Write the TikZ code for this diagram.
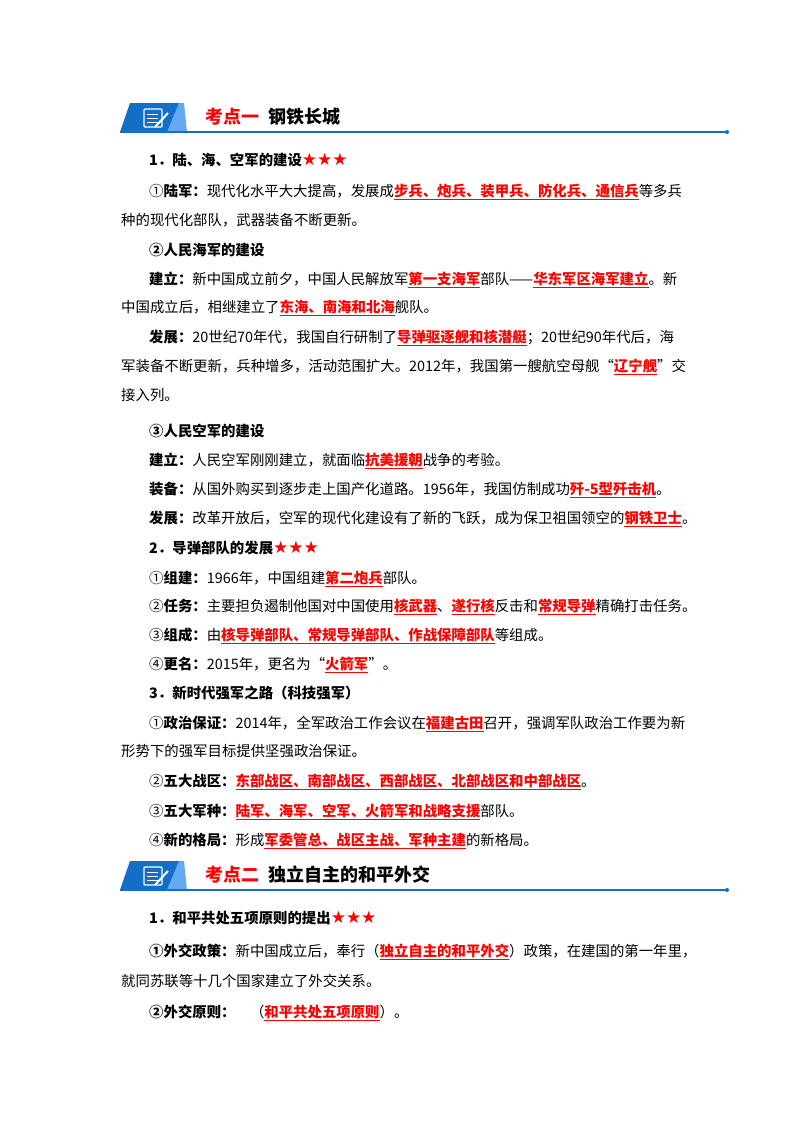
\documentclass[tikz,border=0pt]{standalone}
\usepackage{fontspec}
\setmainfont{Noto Sans CJK SC}
\newfontfamily\sym{DejaVu Sans}
\definecolor{dblue}{RGB}{20,110,200}
\definecolor{lblue}{RGB}{100,170,240}
\newcommand\hl[1]{\textcolor{red}{\bfseries\underline{#1}}}
\newcommand\bd[1]{{\bfseries #1}}
\newcommand\stars{\textcolor{red}{\fontsize{17}{17}\selectfont\sym ★★★}}
\tikzset{txt/.style={anchor=base west,inner sep=0,font=\fontsize{14.4}{14.4}\selectfont},
ttl/.style={anchor=base west,inner sep=0,font=\fontsize{18}{18}\selectfont\bfseries}}
\begin{document}
\begin{tikzpicture}[x=1pt,y=-1pt]
\useasboundingbox[fill=white] (0,0) rectangle (800,1132);
\newcommand\banner[4]{%
 \fill[dblue] (120,#1) -- (130,#1-29) -- (182,#1-29) -- (170,#1);
 \fill[lblue] (167,#1) -- (179,#1-29) -- (184,#1-29) -- (187,#1);
 \draw[white,line width=1.2pt,rounded corners=1pt] (144,#1-23) rectangle (162,#1-5);
 \foreach \k in {0,1,2} \draw[white,line width=1pt] (147,#1-18+\k*4) -- (158,#1-18+\k*4);
 \draw[white,line width=2pt] (155,#1-5) -- (168,#1-19);
 \draw[dblue,line width=1.2pt] (120,#1) -- (727,#1);
 \fill[dblue] (727,#1) circle (2);
 \node[ttl,text=red] (#4a) at (205,#1-9) {#2};
 \node[ttl] (#4b) at (268,#1-9) {#3};}
\banner{132}{考点一}{钢铁长城}{ba}
\banner{890}{考点二}{独立自主的和平外交}{bb}
\node[txt] (l1) at (149,165) {\bd{1．陆、海、空军的建设}\stars};
\node[txt] (l2) at (149,196) {①\bd{陆军：}现代化水平大大提高，发展成\hl{步兵、炮兵、装甲兵、防化兵、通信兵}等多兵};
\node[txt] (l3) at (121,225) {种的现代化部队，武器装备不断更新。};
\node[txt] (l4) at (149,255) {\bd{②人民海军的建设}};
\node[txt] (l5) at (149,284) {\bd{建立：}新中国成立前夕，中国人民解放军\hl{第一支海军}部队——\hl{华东军区海军建立}。新};
\node[txt] (l6) at (121,312) {中国成立后，相继建立了\hl{东海、南海和北海}舰队。};
\node[txt] (l7) at (149,342) {\bd{发展：}20世纪70年代，我国自行研制了\hl{导弹驱逐舰和核潜艇}；20世纪90年代后，海};
\node[txt] (l8) at (121,371) {军装备不断更新，兵种增多，活动范围扩大。2012年，我国第一艘航空母舰“\hl{辽宁舰}”交};
\node[txt] (l9) at (121,400) {接入列。};
\node[txt] (l10) at (149,436) {\bd{③人民空军的建设}};
\node[txt] (l11) at (149,465) {\bd{建立：}人民空军刚刚建立，就面临\hl{抗美援朝}战争的考验。};
\node[txt] (l12) at (149,494) {\bd{装备：}从国外购买到逐步走上国产化道路。1956年，我国仿制成功\hl{歼-5型歼击机}。};
\node[txt] (l13) at (149,523) {\bd{发展：}改革开放后，空军的现代化建设有了新的飞跃，成为保卫祖国领空的\hl{钢铁卫士}。};
\node[txt] (l14) at (149,553) {\bd{2．导弹部队的发展}\stars};
\node[txt] (l15) at (149,583) {①\bd{组建：}1966年，中国组建\hl{第二炮兵}部队。};
\node[txt] (l16) at (149,611) {②\bd{任务：}主要担负遏制他国对中国使用\hl{核武器}、\hl{遂行核}反击和\hl{常规导弹}精确打击任务。};
\node[txt] (l17) at (149,640) {③\bd{组成：}由\hl{核导弹部队、常规导弹部队、作战保障部队}等组成。};
\node[txt] (l18) at (149,669) {④\bd{更名：}2015年，更名为“\hl{火箭军}”。};
\node[txt] (l19) at (149,698) {\bd{3．新时代强军之路（科技强军）}};
\node[txt] (l20) at (149,728) {①\bd{政治保证：}2014年，全军政治工作会议在\hl{福建古田}召开，强调军队政治工作要为新};
\node[txt] (l21) at (121,756) {形势下的强军目标提供坚强政治保证。};
\node[txt] (l22) at (149,786) {②\bd{五大战区：}\hl{东部战区、南部战区、西部战区、北部战区和中部战区}。};
\node[txt] (l23) at (149,816) {③\bd{五大军种：}\hl{陆军、海军、空军、火箭军和战略支援}部队。};
\node[txt] (l24) at (149,845) {④\bd{新的格局：}形成\hl{军委管总、战区主战、军种主建}的新格局。};
\node[txt] (l25) at (149,923) {\bd{1．和平共处五项原则的提出}\stars};
\node[txt] (l26) at (149,956) {\bd{①外交政策：}新中国成立后，奉行（\hl{独立自主的和平外交}）政策，在建国的第一年里，};
\node[txt] (l27) at (121,986) {就同苏联等十几个国家建立了外交关系。};
\node[txt] (l28) at (149,1017) {\bd{②外交原则：}\quad（\hl{和平共处五项原则}）。};
\end{tikzpicture}
\end{document}
